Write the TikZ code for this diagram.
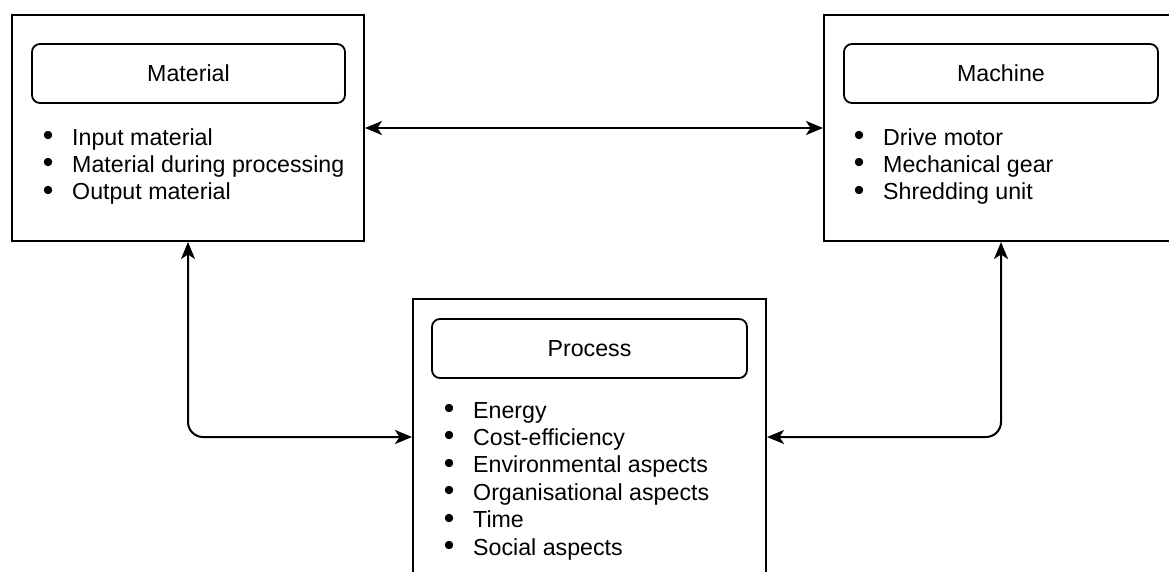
\documentclass[tikz,border=0pt]{standalone}
\usepackage{fontspec}
\setmainfont{Liberation Sans}
\usetikzlibrary{arrows.meta}

% bullet entry: centred dot, then the item text
\newcommand\bitem[1]{\makebox[24pt]{\raisebox{-0.4pt}{\scalebox{1.3}{\textbullet}}}\hspace{12pt}#1}

\begin{document}
\begin{tikzpicture}[x=1pt,y=-1pt,
  every node/.style={font=\fontsize{23.2}{27.4}\selectfont},
  group/.style={draw, line width=2pt, inner sep=0pt},
  titlebox/.style={draw, line width=1.8pt, rounded corners=8pt,
    minimum height=59pt, inner sep=0pt},
  itemlist/.style={anchor=base west, inner sep=0pt},
  tip/.style={Stealth[length=17pt,width=14pt,inset=4.5pt]},
  link/.style={line width=2pt, {Stealth[length=17pt,width=14pt,inset=4.5pt]}-{Stealth[length=17pt,width=14pt,inset=4.5pt]}},
]
\useasboundingbox (0,0) rectangle (1169,571);
\clip (0,0) rectangle (1169,571);

% outer groups
\node[group, minimum width=352pt, minimum height=226pt] (mat) at (188,128) {};
\node[group, minimum width=354pt, minimum height=226pt] (mac) at (1001,128) {};
\node[group, minimum width=353pt, minimum height=276pt] (proc) at (589.5,437) {};

% headings
\node[titlebox, minimum width=313pt] (matt) at (188.5,73.5) {Material};
\node[titlebox, minimum width=314pt] (mact) at (1001,73.5) {Machine};
\node[titlebox, minimum width=315pt] (proct) at (589.5,348.5) {Process};

% item lists
\node[itemlist] (matl) at (36,145) {\begin{tabular}[t]{@{}l@{}}
  \bitem{Input material}\\
  \bitem{Material during processing}\\
  \bitem{Output material}
\end{tabular}};
\node[itemlist] (macl) at (847,145) {\begin{tabular}[t]{@{}l@{}}
  \bitem{Drive motor}\\
  \bitem{Mechanical gear}\\
  \bitem{Shredding unit}
\end{tabular}};
\node[itemlist] (procl) at (437,418) {\begin{tabular}[t]{@{}l@{}}
  \bitem{Energy}\\
  \bitem{Cost-efficiency}\\
  \bitem{Environmental aspects}\\
  \bitem{Organisational aspects}\\
  \bitem{Time}\\
  \bitem{Social aspects}
\end{tabular}};

% connectors
\draw[link] (mat.east) -- (mac.west);
\draw[link, rounded corners=15pt] (mat.south) |- (proc.west);
\draw[link, rounded corners=15pt] (proc.east) -| (mac.south);
\end{tikzpicture}
\end{document}
